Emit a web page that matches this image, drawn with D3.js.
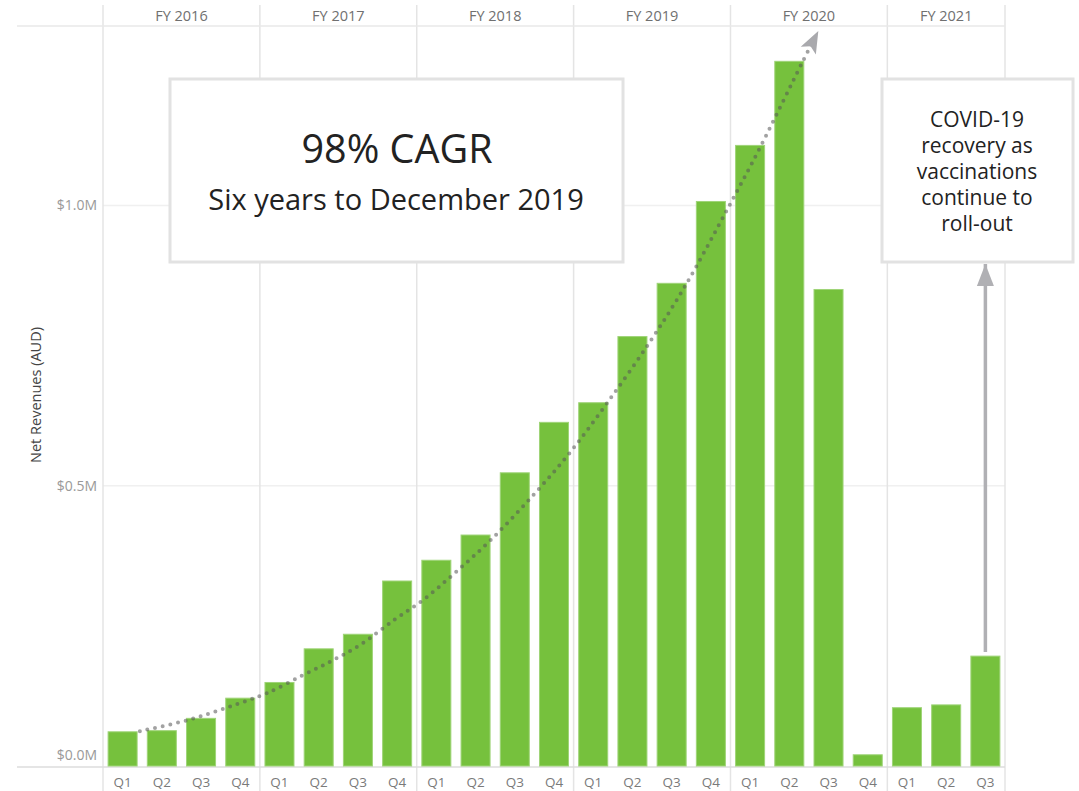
<!DOCTYPE html>
<html>
<head>
<meta charset="utf-8">
<script src="https://cdnjs.cloudflare.com/ajax/libs/d3/7.8.5/d3.min.js"></script>
<style>
  body { margin: 0; background: #fff; }
  svg { display: block; font-family: "Open Sans", "Noto Sans", sans-serif; }
  .note { font-family: "Open Sans", sans-serif; fill: #222; }
</style>
</head>
<body>
<script>
// fiscal years and how many quarters each one shows
const years = ['FY 2016', 'FY 2017', 'FY 2018', 'FY 2019', 'FY 2020', 'FY 2021']
const quartersPerYear = [4, 4, 4, 4, 4, 3]
const quarterNames = ['Q1', 'Q2', 'Q3', 'Q4']

// net revenues, $M, one per quarter
const revenue = [
    0.061, 0.063, 0.085, 0.121,
    0.149, 0.209, 0.235, 0.330,
    0.367, 0.412, 0.523, 0.613,
    0.648, 0.766, 0.861, 1.007,
    1.107, 1.257, 0.850, 0.020,
    0.104, 0.109, 0.196
]

const yTicks = [0, 0.5, 1.0]

// trend line: [quarter position, $M]
const trendPos = [0.94, 2.17, 2.98, 3.57, 4.18, 5.10, 5.87, 6.56, 7.45, 8.16, 8.95, 9.87, 10.89, 11.86, 12.86, 13.95, 14.85, 15.92, 16.76, 17.83, 18.24]
const trendVal = [0.062, 0.082, 0.100, 0.114, 0.130, 0.162, 0.189, 0.216, 0.262, 0.296, 0.343, 0.402, 0.477, 0.555, 0.648, 0.757, 0.857, 0.993, 1.104, 1.255, 1.311]

const cagrTitle = '98% CAGR'
const cagrSub = 'Six years to December 2019'
const covidLines = ['COVID-19', 'recovery as', 'vaccinations', 'continue to', 'roll-out']

var width = 1079, height = 791
var plot = { left: 103, right: 1005, top: 26, bottom: 766 }

var svg = d3.select('body')
    .append('svg')
    .attr('width', width)
    .attr('height', height)

// one entry per bar
var bars = []
years.forEach(function (yr, yi) {
    for (let q = 0; q < quartersPerYear[yi]; q++) {
        bars.push({ year: yr, quarter: quarterNames[q], value: revenue[bars.length] })
    }
})
bars.forEach((d, i) => d.index = i)

var x = d3.scaleBand()
    .domain(bars.map(d => d.index))
    .range([plot.left, plot.right])
    .paddingInner(0.26)
    .paddingOuter(0.13)

var xPos = d3.scaleLinear()
    .domain([0, bars.length])
    .range([plot.left, plot.right])

var y = d3.scaleLinear()
    .domain([0, 1.32])
    .range([plot.bottom, plot.top])

function makeGrid() {
    svg.append('g')
        .selectAll('line')
        .data(yTicks.filter(t => t > 0))
        .enter()
        .append('line')
        .attr('x1', plot.left)
        .attr('x2', plot.right)
        .attr('y1', d => y(d))
        .attr('y2', d => y(d))
        .attr('stroke', '#f0f0f0')
        .attr('stroke-width', 1.5)

    // year separators
    var starts = [0]
    quartersPerYear.forEach((n, i) => starts.push(starts[i] + n))
    svg.append('g')
        .selectAll('line')
        .data(starts)
        .enter()
        .append('line')
        .attr('x1', d => xPos(d))
        .attr('x2', d => xPos(d))
        .attr('y1', 5)
        .attr('y2', height)
        .attr('stroke', '#e4e4e4')
        .attr('stroke-width', 1.5)

    // header rule and baseline
    svg.append('line')
        .attr('x1', 17).attr('x2', plot.right)
        .attr('y1', plot.top).attr('y2', plot.top)
        .attr('stroke', '#e8e8e8').attr('stroke-width', 1.5)
    svg.append('line')
        .attr('x1', 17).attr('x2', plot.right)
        .attr('y1', y(0) + 1).attr('y2', y(0) + 1)
        .attr('stroke', '#dcdcdc').attr('stroke-width', 1.5)

    // FY headers
    svg.append('g')
        .selectAll('text')
        .data(years)
        .enter()
        .append('text')
        .attr('x', (d, i) => (xPos(starts[i]) + xPos(starts[i + 1])) / 2)
        .attr('y', 21)
        .attr('text-anchor', 'middle')
        .attr('font-size', 14.5)
        .attr('fill', '#707070')
        .text(d => d)
}

function makeAxes() {
    var yAxis = d3.axisLeft(y)
        .tickValues(yTicks)
        .tickSize(0)
        .tickPadding(6)
        .tickFormat(d => '$' + d.toFixed(1) + 'M')

    var g = svg.append('g')
        .attr('transform', 'translate(' + plot.left + ',0)')
        .call(yAxis)
    g.select('.domain').remove()
    g.selectAll('text')
        .attr('font-family', '"Open Sans", sans-serif')
        .attr('font-size', 14)
        .attr('fill', '#999')
        .attr('dy', d => d === 0 ? '-0.45em' : '0.32em')

    svg.append('text')
        .attr('transform', 'translate(41,395) rotate(-90)')
        .attr('text-anchor', 'middle')
        .attr('font-size', 14.5)
        .attr('fill', '#444')
        .text('Net Revenues (AUD)')

    var xAxis = d3.axisBottom(x)
        .tickSize(0)
        .tickPadding(11)
        .tickFormat(i => bars[i].quarter)

    var gx = svg.append('g')
        .attr('transform', 'translate(0,' + plot.bottom + ')')
        .call(xAxis)
    gx.select('.domain').remove()
    gx.selectAll('text')
        .attr('font-family', '"Open Sans", sans-serif')
        .attr('font-size', 13.5)
        .attr('fill', '#7a7a7a')
}

function makeBars() {
    svg.append('g')
        .selectAll('rect')
        .data(bars)
        .enter()
        .append('rect')
        .attr('x', d => x(d.index))
        .attr('width', x.bandwidth())
        .attr('y', d => y(d.value))
        .attr('height', d => y(0) - y(d.value))
        .attr('fill', '#76c13d')
        .attr('stroke', '#9fd478')
        .attr('stroke-width', 1)
}

function makeTrend() {
    var defs = svg.append('defs')
    defs.append('marker')
        .attr('id', 'head')
        .attr('markerUnits', 'userSpaceOnUse')
        .attr('viewBox', '-1 -10 25 20')
        .attr('markerWidth', 25)
        .attr('markerHeight', 20)
        .attr('refX', 22)
        .attr('refY', 0)
        .attr('orient', 'auto')
        .append('path')
        .attr('d', 'M0,-8.5L22,0L0,8.5L5,0Z')
        .attr('fill', '#a9a9ad')

    defs.append('marker')
        .attr('id', 'head2')
        .attr('markerUnits', 'userSpaceOnUse')
        .attr('viewBox', '-1 -10 25 20')
        .attr('markerWidth', 25)
        .attr('markerHeight', 20)
        .attr('refX', 22)
        .attr('refY', 0)
        .attr('orient', 'auto')
        .append('path')
        .attr('d', 'M0,-8.5L22,0L0,8.5Z')
        .attr('fill', '#b0b0b4')

    var line = d3.line()
        .x(d => xPos(d[0]))
        .y(d => y(d[1]))
        .curve(d3.curveCatmullRom)

    svg.append('path')
        .datum(d3.zip(trendPos, trendVal))
        .attr('d', line)
        .attr('fill', 'none')
        .attr('stroke', '#555')
        .attr('stroke-opacity', 0.55)
        .attr('stroke-width', 4)
        .attr('stroke-linecap', 'round')
        .attr('stroke-dasharray', '0 7.8')

    // head only, on the last stretch
    var n = trendPos.length
    svg.append('line')
        .attr('x1', xPos(trendPos[n - 2]))
        .attr('y1', y(trendVal[n - 2]))
        .attr('x2', xPos(trendPos[n - 1]))
        .attr('y2', y(trendVal[n - 1]))
        .attr('stroke', 'white')
        .attr('stroke-opacity', 0)
        .attr('marker-end', 'url(#head)')

    // covid recovery arrow
    var last = bars[bars.length - 1]
    var ax = x(last.index) + x.bandwidth() / 2
    svg.append('line')
        .attr('x1', ax)
        .attr('x2', ax)
        .attr('y1', y(last.value) - 4)
        .attr('y2', 264)
        .attr('stroke', '#b0b0b4')
        .attr('stroke-width', 3.5)
        .attr('marker-end', 'url(#head2)')
}

function makeNotes() {
    svg.append('rect')
        .attr('x', 170).attr('y', 79)
        .attr('width', 453).attr('height', 183)
        .attr('fill', '#fff')
        .attr('stroke', '#e2e2e2')
        .attr('stroke-width', 3)
    svg.append('text')
        .attr('class', 'note')
        .attr('x', 397).attr('y', 163)
        .attr('text-anchor', 'middle')
        .attr('font-size', 39.5)
        .text(cagrTitle)
    svg.append('text')
        .attr('class', 'note')
        .attr('x', 396).attr('y', 210)
        .attr('text-anchor', 'middle')
        .attr('font-size', 29)
        .text(cagrSub)

    svg.append('rect')
        .attr('x', 882).attr('y', 79)
        .attr('width', 191).attr('height', 183)
        .attr('fill', '#fff')
        .attr('stroke', '#e2e2e2')
        .attr('stroke-width', 3)
    svg.append('text')
        .attr('class', 'note')
        .attr('text-anchor', 'middle')
        .attr('font-size', 21)
        .selectAll('tspan')
        .data(covidLines)
        .enter()
        .append('tspan')
        .attr('x', 977)
        .attr('y', (_, i) => 127 + i * 26)
        .text(d => d)
}

makeGrid()
makeAxes()
makeBars()
makeTrend()
makeNotes()
</script>
</body>
</html>
